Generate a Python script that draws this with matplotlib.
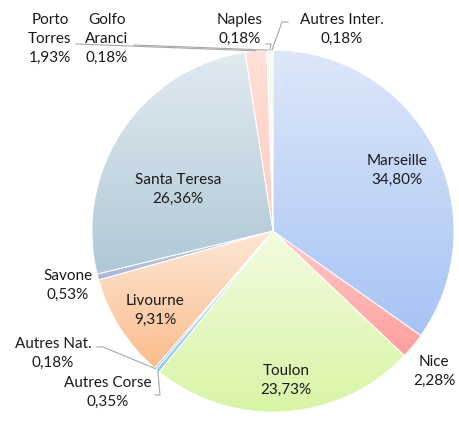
import numpy as np
import matplotlib.pyplot as plt
from matplotlib.colors import to_rgb

# data (clockwise from 12 o'clock)
ports = ['Marseille', 'Nice', 'Toulon', 'Autres Corse', 'Autres Nat.', 'Livourne',
         'Savone', 'Santa Teresa', 'Porto Torres', 'Golfo Aranci', 'Naples', 'Autres Inter.']
shares = [34.80, 2.28, 23.73, 0.35, 0.18, 9.31, 0.53, 26.36, 1.93, 0.18, 0.18, 0.18]
label_text = ['Marseille', 'Nice', 'Toulon', 'Autres Corse', 'Autres Nat.', 'Livourne',
              'Savone', 'Santa Teresa', 'Porto\nTorres', 'Golfo\nAranci', 'Naples', 'Autres Inter.']

# gradient colours (top, bottom)
grad = [('#dde7f9', '#a7c4f5'), ('#ffcaca', '#ff9f9f'), ('#f2fbe0', '#d8f5a6'),
        ('#b0e0f2', '#8ccde8'), ('#c8c0ec', '#b0a6e0'), ('#fde7d6', '#fbbd8d'),
        ('#c4cde6', '#aab6da'), ('#e0eaf0', '#b0c9d6'), ('#ffe0d8', '#ffcbbd'),
        ('#e6eef0', '#d6e0e4'), ('#e4f4d8', '#cfe8bc'), ('#f0f8d0', '#e0f0b0')]

W, H = 459, 426
cx, cy, R = 273, 231, 181   # pixel coords (y down)

# label centres in pixels
lab_pos = [(397, 170), (434, 371), (286, 380), (108, 392), (53, 353), (155, 310),
           (68, 285), (178, 189), (50, 39), (107, 39), (240, 29), (342, 29)]
# leader line start (label side), None = no line
lead = [None, None, None, [(155, 395), (160, 395)], [(97, 347), (103, 347)], None,
        None, None, [(76, 44)], [(134, 45)], [(266, 44), (271, 44)], [(288, 22), (282, 22)]]

plt.rcParams['font.family'] = ['Lato', 'DejaVu Sans']

fig = plt.figure(figsize=(W / 100, H / 100), dpi=100)
ax = fig.add_axes([0, 0, 1, 1])

wedges, _ = ax.pie(shares, center=(cx, H - cy), radius=R, startangle=90, counterclock=False,
                   wedgeprops=dict(facecolor='none', edgecolor='white', linewidth=0.6))

for w, (c0, c1) in zip(wedges, grad):
    ext = w.get_path().get_extents()
    t = np.linspace(0, 1, 64)[:, None, None]
    img = (1 - t) * np.array(to_rgb(c0)) + t * np.array(to_rgb(c1))
    im = ax.imshow(img, extent=(ext.x0, ext.x1, ext.y0, ext.y1), origin='upper',
                   aspect='auto', zorder=0.5, interpolation='bilinear')
    im.set_clip_path(w)

for i, w in enumerate(wedges):
    x, y = lab_pos[i]
    pct = f"{shares[i]:.2f}%".replace('.', ',')
    ax.text(x, H - y, f"{label_text[i]}\n{pct}",
            ha='center', va='center', fontsize=11, color='#1a1a1a', linespacing=1.45, zorder=5)
    if lead[i] is not None:
        mid = np.deg2rad((w.theta1 + w.theta2) / 2)
        pts = [(px, H - py) for px, py in lead[i]]
        pts.append((cx + R * np.cos(mid), H - cy + R * np.sin(mid)))
        xs, ys = zip(*pts)
        ax.plot(xs, ys, color='#a6a6a6', lw=0.8, zorder=4)

ax.set_xlim(0, W)
ax.set_ylim(0, H)
ax.set_aspect('auto')
ax.axis('off')

fig.savefig('out.png', dpi=100)
